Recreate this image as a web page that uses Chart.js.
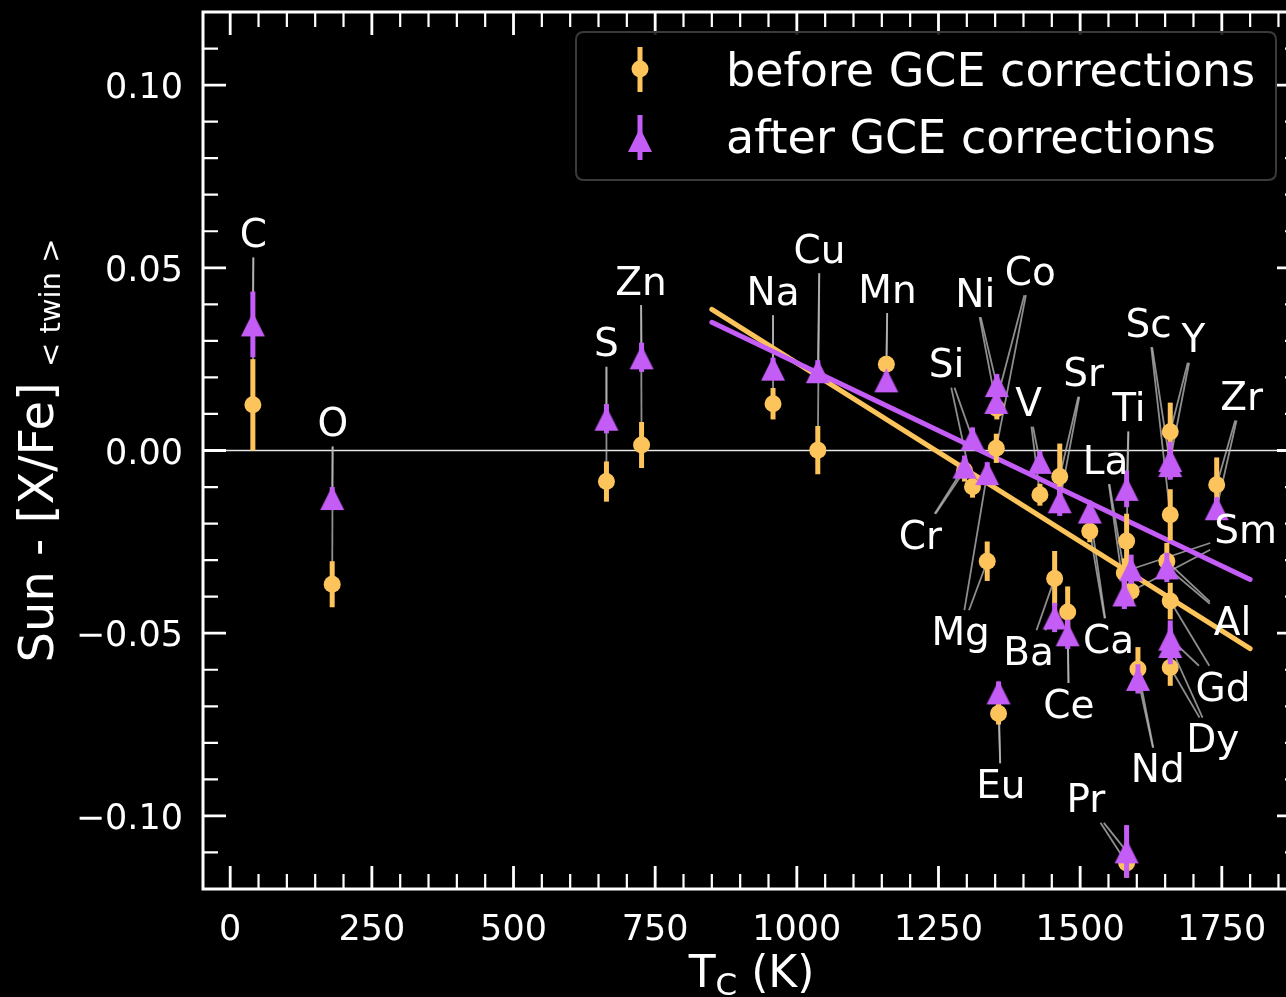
<!DOCTYPE html>
<html><head><meta charset="utf-8">
<style>
html,body{margin:0;padding:0;background:#000;overflow:hidden;width:1286px;height:997px}
#wrap{position:absolute;left:0;top:0;width:1312px;height:997px}
canvas{display:block}
</style>
<script src="https://cdn.jsdelivr.net/npm/chart.js@4.4.1/dist/chart.umd.min.js"></script>
</head><body>
<div id="wrap"><canvas id="c" width="1312" height="997" style="width:1312px;height:997px"></canvas></div>
<script>
// ---------------- data ----------------
const elements = ['C','O','S','Zn','Na','Cu','Mn','Cr','Si','Mg','Co','Ni','Eu','V','Ba','Sr','Ce','Ca','La','Pr','Ti','Sm','Nd','Al','Y','Sc','Gd','Dy','Zr'];
const tcK      = [40,180,664,726,958,1037,1158,1296,1310,1336,1352,1353,1356,1429,1455,1464,1478,1517,1578,1582,1582,1590,1602,1653,1659,1659,1659,1659,1741];
const beforeVals = [0.0125,-0.0366,-0.0085,0.0015,0.0128,0.0001,0.0236,-0.0055,-0.0099,-0.0303,0.0006,0.0115,-0.0720,-0.0121,-0.0350,-0.0071,-0.0442,-0.0221,-0.0335,-0.1129,-0.0248,-0.0385,-0.0598,-0.0303,0.0051,-0.0176,-0.0412,-0.0594,-0.0094];
const beforeErr  = [0.0125,0.0063,0.0055,0.0063,0.0043,0.0066,0.002,0.003,0.003,0.0054,0.004,0.003,0.003,0.003,0.0075,0.009,0.007,0.003,0.004,0.004,0.0075,0.004,0.006,0.005,0.008,0.007,0.005,0.005,0.0075];
const afterVals  = [0.0345,-0.0130,0.0087,0.0255,0.0224,0.0217,0.0192,-0.0044,0.0033,-0.0062,0.0133,0.0179,-0.0662,-0.0031,-0.0457,-0.0139,-0.0503,-0.0167,-0.0394,-0.1097,-0.0105,-0.0325,-0.0625,-0.0320,-0.0026,-0.0040,-0.0515,-0.0535,-0.0158];
const afterErr   = [0.009,0.003,0.004,0.004,0.003,0.003,0.002,0.003,0.003,0.003,0.003,0.003,0.003,0.003,0.004,0.004,0.004,0.003,0.004,0.0072,0.005,0.004,0.004,0.004,0.005,0.004,0.005,0.005,0.003];
// label anchor (text centre) in data units
const labelT = [41,181,664,725,958,1040,1160,1218,1264,1289,1412,1315,1360,1409,1409,1506,1480,1550,1545,1510,1586,1792,1637,1769,1700,1621,1752,1734,1785];
const labelV = [0.0590,0.0073,0.0291,0.0460,0.0432,0.0547,0.0438,-0.0235,0.0234,-0.0499,0.0487,0.0427,-0.0918,0.0127,-0.0554,0.0209,-0.0698,-0.0521,-0.0030,-0.0957,0.0114,-0.0221,-0.0875,-0.0472,0.0302,0.0345,-0.0651,-0.0793,0.0144];
// linear fits
const fitT      = [850, 1800];
const fitBefore = [0.0386, -0.0542];
const fitAfter  = [0.0351, -0.0353];
// axes
const xTickValues = [0,250,500,750,1000,1250,1500,1750];
const yTickValues = [-0.10,-0.05,0.00,0.05,0.10];
const xRange = [-48, 1888];
const yRange = [-0.12, 0.12];
const seriesNames = ['before GCE corrections','after GCE corrections'];

// ---------------- styles ----------------
const ORANGE = '#fdc45c';
const PURPLE = '#c45cf6';
const FONT = '"DejaVu Sans", "Liberation Sans", sans-serif';
const TRI = 24;

function triImg(size, color){
  const c = document.createElement('canvas');
  const s = Math.ceil(size) + 4;
  c.width = s; c.height = s;
  const g = c.getContext('2d');
  g.fillStyle = color;
  g.beginPath();
  g.moveTo(s/2, s/2 - size/2);
  g.lineTo(s/2 + size/2, s/2 + size/2);
  g.lineTo(s/2 - size/2, s/2 + size/2);
  g.closePath();
  g.fill();
  return c;
}
const triangle = triImg(TRI, PURPLE);

// ---------------- plugins ----------------
const backgroundPlugin = {
  id: 'bg',
  beforeDraw(chart){
    const ctx = chart.ctx;
    ctx.save(); ctx.fillStyle = '#000'; ctx.fillRect(0,0,chart.width,chart.height); ctx.restore();
  },
  beforeDatasetsDraw(chart){
    const {ctx, chartArea:a, scales:{x,y}} = chart;
    ctx.save();
    ctx.beginPath(); ctx.rect(a.left, a.top, a.right-a.left, a.bottom-a.top); ctx.clip();
    // zero line
    ctx.strokeStyle = 'rgba(255,255,255,0.9)'; ctx.lineWidth = 1.5;
    const y0 = y.getPixelForValue(0);
    ctx.beginPath(); ctx.moveTo(a.left, y0); ctx.lineTo(a.right, y0); ctx.stroke();
    // annotation connectors
    ctx.font = '39px ' + FONT;
    ctx.strokeStyle = 'rgba(190,190,190,0.75)'; ctx.lineWidth = 1.8;
    elements.forEach((el,i)=>{
      const lx = x.getPixelForValue(labelT[i]), ly = y.getPixelForValue(labelV[i]);
      const w = ctx.measureText(el).width/2 + 4, h = 39*0.58;
      [beforeVals[i], afterVals[i]].forEach(v=>{
        const tx = x.getPixelForValue(tcK[i]), ty = y.getPixelForValue(v);
        const dx = tx-lx, dy = ty-ly;
        let t = Math.min(dx!==0 ? w/Math.abs(dx) : Infinity, dy!==0 ? h/Math.abs(dy) : Infinity);
        if (t >= 1) return;
        ctx.beginPath(); ctx.moveTo(lx+dx*t, ly+dy*t); ctx.lineTo(tx, ty); ctx.stroke();
      });
    });
    ctx.restore();
  },
  beforeDatasetDraw(chart, args){
    const ds = chart.data.datasets[args.index];
    if (!ds.errors) return;
    const {ctx, chartArea:a, scales:{x,y}} = chart;
    ctx.save();
    ctx.beginPath(); ctx.rect(a.left, a.top, a.right-a.left, a.bottom-a.top); ctx.clip();
    ctx.strokeStyle = ds.errColor; ctx.lineWidth = 5; ctx.lineCap = 'butt';
    ds.data.forEach((p,i)=>{
      const e = ds.errors[i];
      const px = x.getPixelForValue(p.x);
      ctx.beginPath();
      ctx.moveTo(px, y.getPixelForValue(p.y - e));
      ctx.lineTo(px, y.getPixelForValue(p.y + e));
      ctx.stroke();
    });
    ctx.restore();
  },
  afterDatasetsDraw(chart){
    const {ctx, scales:{x,y}} = chart;
    ctx.save();
    ctx.font = '39px ' + FONT;
    ctx.fillStyle = '#fff'; ctx.textAlign = 'center'; ctx.textBaseline = 'alphabetic';
    elements.forEach((el,i)=>{
      ctx.fillText(el, x.getPixelForValue(labelT[i]), y.getPixelForValue(labelV[i]) + 39*0.729/2 - 2);
    });
    ctx.restore();
  },
  afterDraw(chart){
    const {ctx, chartArea:a, scales:{x,y}} = chart;
    ctx.save();
    // spines
    ctx.strokeStyle = '#fff'; ctx.lineWidth = 3;
    ctx.strokeRect(a.left, a.top, a.right-a.left, a.bottom-a.top);
    // ticks (inward, all sides)
    const MAJ = 23, MIN = 15;
    for (let v = 0; v <= xRange[1]; v += 50) {
      if (v < xRange[0]) continue;
      const major = v % 250 === 0;
      const L = major ? MAJ : MIN;
      const px = x.getPixelForValue(v);
      ctx.lineWidth = major ? 2.8 : 2.2;
      ctx.beginPath();
      ctx.moveTo(px, a.bottom); ctx.lineTo(px, a.bottom - L);
      ctx.moveTo(px, a.top); ctx.lineTo(px, a.top + L);
      ctx.stroke();
    }
    for (let k = -11; k <= 11; k++) {
      const v = k/100;
      const major = k % 5 === 0;
      const L = major ? MAJ : MIN;
      const py = y.getPixelForValue(v);
      ctx.lineWidth = major ? 2.8 : 2.2;
      ctx.beginPath();
      ctx.moveTo(a.left, py); ctx.lineTo(a.left + L, py);
      ctx.moveTo(a.right, py); ctx.lineTo(a.right - L, py);
      ctx.stroke();
    }
    // axis titles
    ctx.fillStyle = '#fff';
    ctx.textBaseline = 'alphabetic';
    // x title: T_C (K)
    const xs = 44, xsub = 31;
    ctx.font = xs + 'px ' + FONT;
    const wT = ctx.measureText('T').width, wK = ctx.measureText(' (K)').width;
    ctx.font = xsub + 'px ' + FONT;
    const wC = ctx.measureText('C').width;
    const cx = (a.left + a.right)/2;
    let sx = cx - (wT + wC + wK)/2;
    const bl = 987;
    ctx.textAlign = 'left';
    ctx.font = xs + 'px ' + FONT; ctx.fillText('T', sx, bl);
    ctx.font = xsub + 'px ' + FONT; ctx.fillText('C', sx + wT, bl + 8);
    ctx.font = xs + 'px ' + FONT; ctx.fillText(' (K)', sx + wT + wC, bl);
    // y title: Sun - [X/Fe]_<twin>
    const ys = 48, ysub = 29;
    ctx.save();
    const cy = (a.top + a.bottom)/2;
    ctx.translate(53, cy);
    ctx.rotate(-Math.PI/2);
    ctx.font = ys + 'px ' + FONT;
    const m1 = ctx.measureText('Sun - [X/Fe] ').width;
    ctx.font = ysub + 'px ' + FONT;
    const m2 = ctx.measureText('< twin >').width;
    const st = -(m1 + m2)/2;
    ctx.font = ys + 'px ' + FONT; ctx.fillText('Sun - [X/Fe] ', st, 0);
    ctx.font = ysub + 'px ' + FONT; ctx.fillText('< twin >', st + m1, 7);
    ctx.restore();
    // legend
    const bx = 576, by = 32, bw = 700, bh = 148, r = 8;
    ctx.beginPath();
    ctx.moveTo(bx+r, by); ctx.lineTo(bx+bw-r, by); ctx.quadraticCurveTo(bx+bw, by, bx+bw, by+r);
    ctx.lineTo(bx+bw, by+bh-r); ctx.quadraticCurveTo(bx+bw, by+bh, bx+bw-r, by+bh);
    ctx.lineTo(bx+r, by+bh); ctx.quadraticCurveTo(bx, by+bh, bx, by+bh-r);
    ctx.lineTo(bx, by+r); ctx.quadraticCurveTo(bx, by, bx+r, by);
    ctx.closePath();
    ctx.fillStyle = 'rgba(0,0,0,0.85)'; ctx.fill();
    ctx.strokeStyle = '#3a3a3a'; ctx.lineWidth = 2; ctx.stroke();
    const mx = 640;
    ctx.lineWidth = 5;
    ctx.strokeStyle = ORANGE; ctx.beginPath(); ctx.moveTo(mx, 47); ctx.lineTo(mx, 92); ctx.stroke();
    ctx.fillStyle = ORANGE; ctx.beginPath(); ctx.arc(mx, 69, 8.5, 0, Math.PI*2); ctx.fill();
    ctx.strokeStyle = PURPLE; ctx.beginPath(); ctx.moveTo(mx, 115); ctx.lineTo(mx, 160); ctx.stroke();
    ctx.drawImage(triangle, mx - triangle.width/2, 140 - triangle.height/2);
    ctx.fillStyle = '#fff'; ctx.font = '46px ' + FONT; ctx.textAlign = 'left';
    ctx.fillText(seriesNames[0], 726, 86);
    ctx.fillText(seriesNames[1], 726, 153);
    ctx.restore();
  }
};

// ---------------- chart ----------------
const tickFont = {family: FONT, size: 35};
new Chart(document.getElementById('c').getContext('2d'), {
  type: 'scatter',
  data: {
    datasets: [
      { type:'line', label:'fit before', data: fitT.map((t,i)=>({x:t, y:fitBefore[i]})),
        borderColor: ORANGE, borderWidth: 5, borderCapStyle:'round', pointRadius: 0, fill:false, order: 5 },
      { type:'line', label:'fit after', data: fitT.map((t,i)=>({x:t, y:fitAfter[i]})),
        borderColor: PURPLE, borderWidth: 5, borderCapStyle:'round', pointRadius: 0, fill:false, order: 4 },
      { label: seriesNames[0], data: tcK.map((t,i)=>({x:t, y:beforeVals[i]})),
        pointStyle:'circle', pointRadius: 8.5, backgroundColor: ORANGE, borderWidth: 0,
        errors: beforeErr, errColor: ORANGE, order: 3 },
      { label: seriesNames[1], data: tcK.map((t,i)=>({x:t, y:afterVals[i]})),
        pointStyle: triangle, pointRadius: 12, backgroundColor: PURPLE, borderWidth: 0,
        errors: afterErr, errColor: PURPLE, order: 2 }
    ]
  },
  options: {
    responsive: false, animation: false, devicePixelRatio: 1,
    layout: { padding: { top: 8, right: 11, left: 0, bottom: 0 } },
    plugins: { legend: { display: false }, tooltip: { enabled: false } },
    scales: {
      x: {
        type: 'linear', min: xRange[0], max: xRange[1],
        grid: { display: false, drawTicks: false }, border: { display: false },
        ticks: { color: '#fff', font: tickFont, padding: 21, maxRotation: 0, autoSkip: false, includeBounds: false,
                 callback: v => String(v) },
        afterBuildTicks: s => { s.ticks = xTickValues.map(v => ({ value: v })); },
        afterFit: s => { s.height = 108; s.paddingLeft = 0; s.paddingRight = 0; }
      },
      y: {
        type: 'linear', min: yRange[0], max: yRange[1],
        grid: { display: false, drawTicks: false }, border: { display: false },
        ticks: { color: '#fff', font: tickFont, padding: 20, autoSkip: false, includeBounds: false, labelOffset: 4,
                 callback: v => (v < -1e-9 ? '\u2212' : '') + Math.abs(v).toFixed(2) },
        afterBuildTicks: s => { s.ticks = yTickValues.map(v => ({ value: v })); },
        afterFit: s => { s.width = 203; s.paddingTop = 0; s.paddingBottom = 0; }
      }
    }
  },
  plugins: [backgroundPlugin]
});
</script>
</body></html>
